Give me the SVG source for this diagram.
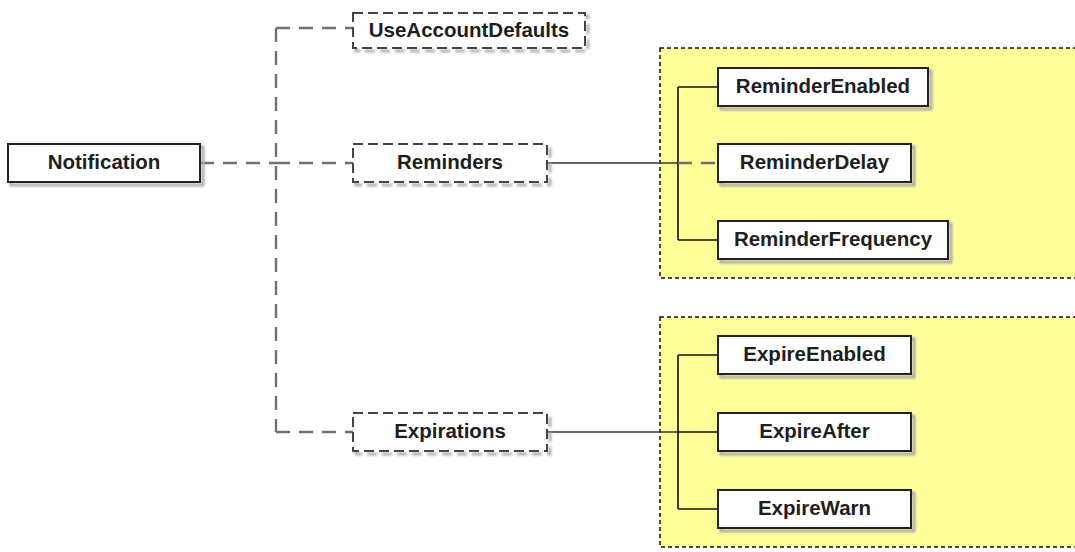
<svg xmlns="http://www.w3.org/2000/svg" width="1075" height="552" viewBox="0 0 1075 552">
<defs>
<filter id="blur" x="-10%" y="-10%" width="120%" height="130%"><feGaussianBlur stdDeviation="0.9"/></filter>
</defs>
<style>
.grp{fill:#ffff99;stroke:#111;stroke-width:1.5;stroke-dasharray:4 3}
.box{fill:#fff;stroke:#222;stroke-width:2}
.opt{fill:#fff;stroke:#444;stroke-width:2;stroke-dasharray:10 5}
.sh{fill:none;stroke:#aaa;stroke-width:3;filter:url(#blur)}
.shd{fill:none;stroke:#b0b0b0;stroke-width:3;stroke-dasharray:10 5;filter:url(#blur)}
.t{font-family:"Liberation Sans",Arial,sans-serif;font-weight:bold;font-size:20.5px;fill:#1e1e1e;text-anchor:middle}
.dl{fill:none;stroke:#707070;stroke-width:2.4;stroke-dasharray:14 9}
.sl{fill:none;stroke:#333;stroke-width:1.6}
.sk{fill:none;stroke:#111;stroke-width:1.6}
</style>
<g id="group-reminders"><rect class="grp" x="660" y="48" width="430" height="230"/></g>
<g id="group-expirations"><rect class="grp" x="660" y="317" width="430" height="230"/></g>
<g id="connectors">
<path class="dl" d="M200,163 H276"/>
<path class="dl" d="M276,28 V432"/>
<path class="dl" d="M276,28 H353"/>
<path class="dl" d="M276,163 H353"/>
<path class="dl" d="M276,432 H353"/>
<path class="sl" d="M547,163 H678"/>
<path class="sk" d="M678,87 V240"/>
<path class="sk" d="M678,87 H718"/>
<path class="sk" d="M678,240 H718"/>
<path class="dl" d="M678,163 H718"/>
<path class="sl" d="M547,432 H678"/>
<path class="sk" d="M678,355 V509"/>
<path class="sk" d="M678,355 H718"/>
<path class="sk" d="M678,432 H718"/>
<path class="sk" d="M678,509 H718"/>
</g>
<g id="Notification"><rect class="sh" x="11" y="147" width="192" height="38"/><rect class="box" x="8" y="144" width="192" height="38"/><text class="t" x="104" y="169">Notification</text></g>
<g id="UseAccountDefaults"><rect class="shd" x="356" y="16" width="232" height="35"/><rect class="opt" x="353" y="13" width="232" height="35"/><text class="t" x="469" y="37">UseAccountDefaults</text></g>
<g id="Reminders"><rect class="shd" x="356" y="147" width="194" height="38"/><rect class="opt" x="353" y="144" width="194" height="38"/><text class="t" x="450" y="169">Reminders</text></g>
<g id="Expirations"><rect class="shd" x="356" y="416" width="194" height="38"/><rect class="opt" x="353" y="413" width="194" height="38"/><text class="t" x="450" y="438">Expirations</text></g>
<g id="ReminderEnabled"><rect class="sh" x="721" y="71" width="210" height="38"/><rect class="box" x="718" y="68" width="210" height="38"/><text class="t" x="823" y="93">ReminderEnabled</text></g>
<g id="ReminderDelay"><rect class="sh" x="721" y="147" width="193" height="38"/><rect class="box" x="718" y="144" width="193" height="38"/><text class="t" x="814.5" y="169">ReminderDelay</text></g>
<g id="ReminderFrequency"><rect class="sh" x="721" y="224" width="230" height="38"/><rect class="box" x="718" y="221" width="230" height="38"/><text class="t" x="833" y="246">ReminderFrequency</text></g>
<g id="ExpireEnabled"><rect class="sh" x="721" y="339" width="193" height="38"/><rect class="box" x="718" y="336" width="193" height="38"/><text class="t" x="814.5" y="361">ExpireEnabled</text></g>
<g id="ExpireAfter"><rect class="sh" x="721" y="416" width="193" height="38"/><rect class="box" x="718" y="413" width="193" height="38"/><text class="t" x="814.5" y="438">ExpireAfter</text></g>
<g id="ExpireWarn"><rect class="sh" x="721" y="493" width="193" height="38"/><rect class="box" x="718" y="490" width="193" height="38"/><text class="t" x="814.5" y="515">ExpireWarn</text></g>
</svg>
